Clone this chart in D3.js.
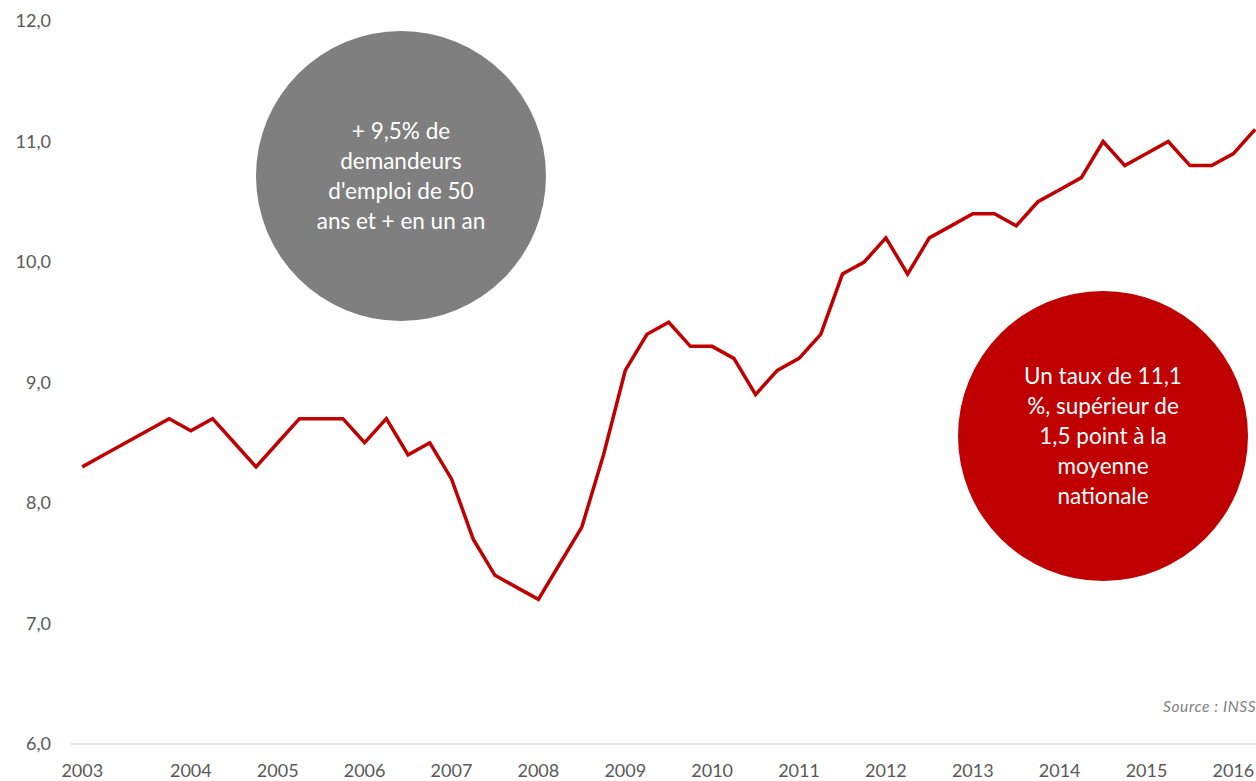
<!DOCTYPE html>
<html>
<head>
<meta charset="utf-8">
<script src="https://cdn.jsdelivr.net/npm/d3@7"></script>
<style>
  body { margin: 0; background: #fff; }
  svg { display: block; font-family: Lato, "Open Sans", sans-serif; }
</style>
</head>
<body>
<svg width="1256" height="781"></svg>
<script>
// quarterly rate, 2003 -> 2016
var rates = [8.3, 8.4, 8.5, 8.6, 8.7, 8.6, 8.7, 8.5, 8.3, 8.5,
             8.7, 8.7, 8.7, 8.5, 8.7, 8.4, 8.5, 8.2, 7.7, 7.4,
             7.3, 7.2, 7.5, 7.8, 8.4, 9.1, 9.4, 9.5, 9.3, 9.3,
             9.2, 8.9, 9.1, 9.2, 9.4, 9.9, 10.0, 10.2, 9.9, 10.2,
             10.3, 10.4, 10.4, 10.3, 10.5, 10.6, 10.7, 11.0, 10.8, 10.9,
             11.0, 10.8, 10.8, 10.9, 11.1];
var yearLabels = ['2003', '2004', '2005', '2006', '2007', '2008', '2009',
                  '2010', '2011', '2012', '2013', '2014', '2015', '2016'];
var yearIndex = [0, 5, 9, 13, 17, 21, 25, 29, 33, 37, 41, 45, 49, 53];
var yTicks = [6, 7, 8, 9, 10, 11, 12];
var note1 = ['+ 9,5% de', 'demandeurs', "d'emploi de 50", 'ans et + en un an'];
var note2 = ['Un taux de 11,1', '%, supérieur de', '1,5 point à la', 'moyenne', 'nationale'];

var svg = d3.select("svg");

var x = d3.scaleBand()
    .domain(d3.range(rates.length))
    .range([71.4, 1266]);
var y = d3.scaleLinear()
    .domain([6, 12])
    .range([744, 21]);

// baseline
svg.append("line")
    .attr("x1", 71).attr("x2", 1256)
    .attr("y1", y(6)).attr("y2", y(6))
    .attr("stroke", "#d9d9d9").attr("stroke-width", 1.3);

// y labels
svg.append("g").selectAll("text")
    .data(yTicks)
    .enter().append("text")
    .attr("x", 51)
    .attr("y", function (d) { return y(d); })
    .attr("dy", "0.35em")
    .attr("text-anchor", "end")
    .attr("fill", "#595959")
    .attr("font-size", 18)
    .text(function (d) { return d3.format(".1f")(d).replace(".", ","); });

// x labels
svg.append("g").selectAll("text")
    .data(yearIndex)
    .enter().append("text")
    .attr("x", function (d) { return x(d) + x.bandwidth() / 2; })
    .attr("y", 777)
    .attr("text-anchor", "middle")
    .attr("fill", "#595959")
    .attr("font-size", 18)
    .text(function (d, i) { return yearLabels[i]; });

// the line
var line = d3.line()
    .x(function (d, i) { return x(i) + x.bandwidth() / 2; })
    .y(function (d) { return y(d); });

svg.append("path")
    .datum(rates)
    .attr("d", line)
    .attr("fill", "none")
    .attr("stroke", "#c00000")
    .attr("stroke-width", 3.5)
    .attr("stroke-linejoin", "miter");

// bubbles
function bubble(cx, cy, fill, lines) {
    var g = svg.append("g");
    g.append("circle")
        .attr("cx", cx).attr("cy", cy).attr("r", 145)
        .attr("fill", fill);
    var top = cy - (lines.length - 1) * 30 / 2;
    g.selectAll("text")
        .data(lines)
        .enter().append("text")
        .attr("x", cx)
        .attr("y", function (d, i) { return top + i * 30; })
        .attr("dy", "0.35em")
        .attr("text-anchor", "middle")
        .attr("fill", "#fff")
        .attr("font-size", 22.5)
        .text(function (d) { return d; });
}
bubble(401, 176, "#7f7f7f", note1);
bubble(1103, 436, "#c00000", note2);

svg.append("text")
    .attr("x", 1163)
    .attr("y", 712)
    .attr("fill", "#7f7f7f")
    .attr("font-size", 15.5)
    .attr("font-style", "italic")
    .attr("letter-spacing", 0.6)
    .text("Source : INSS");
</script>
</body>
</html>
